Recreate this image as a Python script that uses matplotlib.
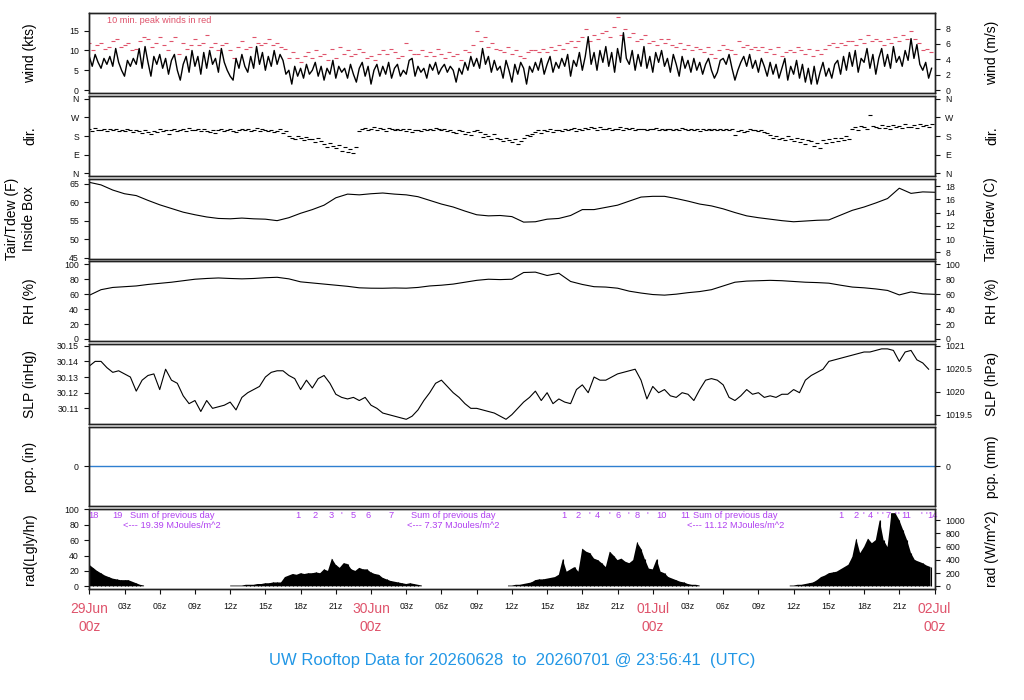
import numpy as np
import matplotlib
matplotlib.use('Agg')
import matplotlib.pyplot as plt
from matplotlib.transforms import blended_transform_factory

plt.rcParams['font.family'] = ['Liberation Sans', 'DejaVu Sans']

# ---------------- data (hours since 29Jun 00z) ----------------
# wind speed (kts), every 15 min
wind_kts = [
 8.5, 6.0, 9.0, 7.0,  5.5, 8.0, 6.5, 8.5,  6.0, 10.5, 7.0, 5.0,  3.5, 7.5, 6.0, 8.0,
 6.5, 10.5, 5.5, 11.0,  7.0, 3.5, 8.5, 6.5,  9.0, 5.5, 8.0, 4.0,  7.5, 9.0, 5.0, 2.5,
 6.5, 8.5, 4.5, 10.0,  6.0, 8.5, 4.0, 9.5,  5.5, 10.0, 6.5, 8.0,  4.5, 10.5, 7.0, 5.0,
 3.5, 2.5, 8.0, 5.5,  9.0, 6.0, 4.5, 8.5,  5.5, 11.0, 6.5, 9.5,  5.0, 8.5, 6.0, 10.0,
 6.5, 9.0, 7.5, 4.0,  5.0, 1.5, 6.0, 3.5,  5.5, 3.0, 6.5, 4.0,  5.0, 7.0, 3.5, 6.0,
 2.5, 5.5, 4.0, 7.5,  3.0, 6.0, 4.5, 5.5,  3.0, 6.5, 4.0, 2.0,  5.5, 7.0, 3.5, 6.0,
 1.5, 5.0, 6.5, 3.5,  6.0, 4.0, 7.0, 3.0,  5.5, 6.5, 3.5, 5.0,  4.0, 7.5, 8.0, 3.5,
 6.0, 4.5, 5.5, 3.0,  6.5, 5.0, 7.0, 4.0,  5.5, 6.5, 4.5, 6.0,  5.0, 2.0, 5.5, 4.0,
 7.0, 5.0, 8.5, 6.0,  8.0, 5.5, 10.5, 6.5,  8.5, 4.5, 7.5, 5.0,  6.0, 3.0, 7.5, 5.0,
 2.0, 6.5, 4.0, 7.0,  5.5, 1.5, 6.0, 4.5,  7.0, 5.0, 8.0, 4.0,  6.5, 8.5, 4.5, 7.0,
 5.5, 8.0, 6.0, 9.0,  3.5, 7.5, 6.0, 9.5,  5.0, 8.5, 13.5, 6.5,  9.5, 5.0, 10.0, 7.0,
 11.0, 6.0, 9.5, 4.5,  10.5, 7.0, 14.5, 8.0,  6.5, 10.0, 5.0, 9.0,  6.0, 11.0, 5.5, 8.5,
 4.5, 9.5, 7.0, 10.0,  6.0, 8.0, 4.5, 9.0,  6.5, 3.5, 8.5, 5.5,  7.5, 4.5, 8.0, 5.0,
 7.0, 4.0, 6.5, 8.0,  5.0, 3.0, 4.5, 7.5,  8.0, 6.5, 9.0, 5.5,  2.5, 5.0, 7.0, 8.5,
 6.0, 9.0, 5.5, 7.5,  4.5, 8.0, 6.0, 3.5,  7.0, 4.0, 6.5, 3.0,  5.5, 8.0, 2.5, 6.0,
 4.0, 7.5, 3.0, 6.5,  2.0, 5.5, 1.5, 6.0,  1.5, 4.5, 7.0, 3.5,  5.5, 3.0, 6.5, 7.5,
 4.0, 8.5, 5.0, 9.5,  6.0, 10.0, 4.5, 8.0,  7.0, 10.5, 5.5, 9.0,  4.0, 8.0, 10.5, 6.0,
 9.0, 5.5, 11.0, 7.0,  8.5, 6.0, 10.0, 7.5,  13.0, 8.0, 11.5, 6.5,  5.0, 7.0, 3.0, 5.5,
]

# 10-min peak winds (kts), every 20 min
peak_kts = [
 12.0, 10.0, 11.5,  12.0, 10.5, 11.0,  12.5, 13.0, 11.0,  11.5, 12.0, 10.0,
 10.5, 12.5, 13.5,  13.0, 11.0, 12.0,  13.5, 11.5, 10.0,  12.5, 13.5, 9.0,
 12.0, 10.5, 11.5,  13.0, 11.5, 12.0,  14.0, 11.0, 12.0,  10.0, 11.5, 12.0,
 10.0, 8.0, 11.0,  12.5, 10.5, 11.0,  13.5, 12.0, 11.5,  12.0, 13.0, 11.5,
 12.0, 11.0, 10.5,  8.0, 9.5, 8.0,  7.0, 8.5, 9.5,  8.0, 10.0, 8.5,
 9.0, 7.5, 10.5,  8.0, 11.0, 9.0,  10.0, 8.5, 9.0,  10.5, 9.5, 8.0,
 8.5, 7.5, 9.0,  10.0, 9.0, 10.5,  9.5, 8.0, 8.5,  12.0, 10.0, 9.0,
 9.0, 10.0, 8.5,  9.5, 8.5, 10.5,  9.0, 8.0, 9.5,  8.5, 9.0, 7.5,
 10.0, 9.5, 11.5,  15.0, 12.5, 13.5,  11.0, 12.0, 10.5,  10.0, 9.5, 11.0,
 9.0, 10.0, 8.5,  8.0, 9.5, 10.0,  10.0, 9.5, 10.5,  9.5, 11.0, 10.0,
 11.5, 10.5, 12.0,  12.5, 11.0, 12.5,  13.5, 15.5, 12.5,  14.0, 13.0, 14.5,
 15.0, 13.5, 16.0,  18.5, 14.0, 15.5,  13.5, 14.5, 12.5,  13.0, 14.0, 12.0,
 12.5, 11.5, 13.0,  12.0, 13.0, 11.5,  11.0, 12.0, 10.5,  11.5, 10.0, 11.0,
 10.5, 9.5, 11.0,  9.0, 8.0, 10.0,  11.5, 10.5, 10.0,  9.0, 12.5, 11.0,
 11.5, 10.5, 11.0,  10.0, 11.0, 9.5,  10.5, 9.0, 11.0,  8.5, 9.5, 10.0,
 9.5, 11.0, 10.0,  9.0, 10.5, 8.5,  10.0, 9.0, 10.5,  11.5, 12.0, 11.0,
 12.0, 11.5, 12.5,  12.5, 11.5, 13.0,  12.0, 14.0, 12.5,  13.0, 12.5, 11.5,
 13.0, 12.0, 13.5,  12.5, 14.0, 13.0,  15.0, 13.0, 12.0,  10.0, 10.5, 9.5,
]

# wind direction (degrees), every 15 min
wind_dir = [
 212, 205, 218, 208,  210, 215, 203, 212,  208, 214, 206, 211,  204, 212, 209, 200,
 210, 205, 196, 208,  200, 188, 205, 198,  212, 203, 209, 190,  207, 214, 202, 210,
 215, 206, 219, 210,  208, 213, 204, 212,  206, 200, 211, 196,  208, 214, 203, 210,
 212, 206, 200, 209,  215, 208, 213, 202,  210, 217, 205, 212,  208, 203, 210, 198,
 205, 212, 195, 203,  180, 172, 165, 178,  170, 160, 175, 168,  165, 150, 172, 158,
 140, 125, 148, 130,  120, 135, 110, 128,  105, 118, 98, 125,  205, 212, 220, 208,
 215, 222, 210, 218,  212, 206, 218, 214,  210, 216, 208, 213,  206, 212, 200, 210,
 211, 205, 214, 208,  216, 210, 220, 212,  208, 214, 205, 210,  200, 195, 207, 203,
 190, 198, 185, 202,  210, 198, 175, 190,  180, 165, 192, 172,  168, 155, 172, 162,
 150, 165, 140, 158,  170, 185, 178, 190,  200, 208, 195, 210,  205, 212, 200, 208,
 210, 203, 215, 207,  212, 218, 206, 214,  208, 220, 212, 225,  218, 210, 222, 215,
 212, 218, 208, 214,  216, 222, 210, 218,  213, 218, 210, 215,  212, 216, 209, 214,
 214, 218, 211, 215,  210, 216, 212, 208,  214, 210, 217, 212,  211, 215, 209, 213,
 206, 212, 208, 214,  210, 214, 207, 212,  208, 213, 210, 215,  185, 205, 210, 200,
 206, 212, 208, 210,  205, 210, 200, 196,  185, 170, 178, 165,  172, 160, 180, 168,
 158, 170, 150, 165,  140, 162, 155, 130,  148, 120, 160, 145,  165, 150, 170, 158,
 172, 160, 180, 168,  215, 225, 210, 230,  222, 215, 282, 228,  225, 218, 232, 220,
 228, 215, 235, 222,  230, 220, 238, 225,  224, 232, 218, 236,  228, 235, 222, 240,
]

# air temperature inside box (F), hourly
temp_f = [
 65.4, 64.7, 63.3, 62.3, 61.8, 60.5, 59.3, 58.3, 57.3, 56.6, 56.0, 55.6,
 55.5, 55.7, 55.5, 55.4, 55.0, 55.8, 57.0, 58.0, 59.2, 61.2, 62.2, 62.0,
 62.3, 62.5, 62.2, 62.0, 61.5, 60.5, 59.5, 58.7, 57.6, 56.6, 56.3, 56.4,
 56.1, 54.6, 54.7, 55.4, 55.6, 56.4, 58.0, 58.0, 58.6, 59.2, 60.3, 61.4,
 61.6, 61.6, 61.0, 60.3, 59.5, 59.0, 58.2, 57.2, 56.3, 55.8, 55.4, 55.0,
 54.7, 54.9, 55.1, 55.2, 56.5, 57.8, 58.7, 59.8, 61.0, 63.8, 62.4, 62.8, 62.7,
]

# relative humidity (%), hourly
rh_pct = [
 58.5, 66.0, 69.0, 70.0, 71.0, 73.0, 74.5, 76.0, 78.0, 80.0, 81.0, 81.7,
 81.0, 80.5, 81.0, 82.0, 82.6, 80.5, 76.5, 75.0, 73.5, 72.0, 70.5, 68.5,
 68.0, 67.9, 68.3, 68.0, 69.0, 71.0, 72.0, 73.5, 76.0, 78.5, 80.0, 79.5,
 80.0, 89.0, 89.5, 85.0, 88.0, 77.0, 73.0, 70.0, 69.5, 68.0, 64.0, 61.5,
 59.5, 58.7, 60.0, 62.0, 63.5, 66.0, 71.0, 76.0, 77.5, 78.0, 78.5, 78.0,
 77.0, 76.0, 75.5, 74.7, 72.0, 69.5, 68.5, 67.0, 65.0, 59.0, 63.0, 60.5, 59.8,
]

# sea-level pressure (inHg), every 30 min
slp_inhg = [
 30.137, 30.140, 30.140, 30.136, 30.133, 30.134, 30.132, 30.130, 30.121, 30.128,
 30.131, 30.132, 30.122, 30.135, 30.128, 30.126, 30.118, 30.113, 30.115, 30.108,
 30.115, 30.110, 30.111, 30.112, 30.114, 30.109, 30.117, 30.120, 30.122, 30.124,
 30.130, 30.133, 30.134, 30.134, 30.131, 30.129, 30.122, 30.128, 30.123, 30.129,
 30.131, 30.126, 30.119, 30.117, 30.116, 30.117, 30.115, 30.117, 30.112, 30.110,
 30.107, 30.106, 30.105, 30.104, 30.103, 30.105, 30.109, 30.115, 30.120, 30.126,
 30.128, 30.124, 30.120, 30.117, 30.113, 30.110, 30.110, 30.109, 30.108, 30.107,
 30.105, 30.103, 30.106, 30.110, 30.114, 30.117, 30.121, 30.115, 30.120, 30.113,
 30.116, 30.114, 30.113, 30.122, 30.125, 30.120, 30.130, 30.128, 30.128, 30.130,
 30.132, 30.133, 30.134, 30.135, 30.128, 30.116, 30.124, 30.120, 30.122, 30.118,
 30.117, 30.120, 30.119, 30.115, 30.122, 30.128, 30.129, 30.128, 30.125, 30.117,
 30.115, 30.118, 30.122, 30.119, 30.120, 30.117, 30.118, 30.117, 30.119, 30.119,
 30.122, 30.120, 30.128, 30.131, 30.133, 30.135, 30.140, 30.141, 30.142, 30.143,
 30.144, 30.145, 30.146, 30.146, 30.147, 30.148, 30.148, 30.147, 30.140, 30.146,
 30.147, 30.141, 30.139, 30.135,
]

# precipitation (in), hourly totals (all zero)
pcp_in = [0.0] * 73

# solar radiation (Langley/hr), every 20 min
rad_lgly = [
 28, 24, 20,  17, 14, 12,  10, 9, 8,  8, 8, 6,  4, 2, 1,
 0, 0, 0,  0, 0, 0,  0, 0, 0,  0, 0, 0,  0, 0, 0,  0, 0, 0,  0, 0, 0,
 1, 1, 1,  1, 2, 2,  2, 3, 3,  4, 4, 5,  5, 5, 12,  14, 16, 15,
 17, 16, 17,  17, 18, 17,  22, 20, 36,  28, 24, 30,  29, 22, 20,  24, 22, 22,
 18, 16, 15,  11, 9, 7,  6, 5, 4,  3, 4, 3,  2, 1, 0,
 0, 0, 0,  0, 0, 0,  0, 0, 0,  0, 0, 0,  0, 0, 0,  0, 0, 0,  0, 0, 1,
 1, 2, 2,  3, 4, 5,  8, 9, 9,  10, 11, 12,  15, 35, 19,  22, 25, 19,
 49, 45, 43,  36, 34, 30,  25, 45, 40,  34, 36, 32,  30, 34, 57,  49, 35, 23,
 22, 35, 19,  17, 12, 10,  8, 6, 5,  3, 2, 2,  1, 0, 0,
 0, 0, 0,  0, 0, 0,  0, 0, 0,  0, 0, 0,  0, 0, 0,  0, 0, 0,  0, 0, 1,
 1, 2, 2,  3, 4, 5,  8, 12, 14,  17, 18, 19,  22, 25, 28,  38, 62, 43,
 51, 62, 56,  60, 86, 60,  51, 95, 95,  86, 73, 60,  43, 34, 32,  30, 27, 25,
]

# purple cumulative-energy labels on the radiation panel
rad_marks = ['18', '19', '1', '2', '3', "'", '5', '6', '7',
             '1', '2', "'", '4', "'", '6', "'", '8', "'", '10', '11',
             '1', '2', "'", '4', "'", "'", '7', "'", "'", '11', "'", "'", '14']
rad_mark_hours = [0.34, 2.38, 17.79, 19.24, 20.60, 21.49, 22.48, 23.75, 25.74,
                  40.44, 41.67, 42.63, 43.25, 44.27, 45.07, 45.89, 46.65, 47.54, 48.78, 50.77,
                  64.02, 65.33, 65.98, 66.55, 67.17, 67.54, 68.02, 68.68, 68.96, 69.59, 70.87, 71.29, 71.85]
daily_sums = ['19.39', '7.37', '11.12']
daily_sum_hours = [7.03, 31.02, 55.05]

day_labels = ['29Jun', '30Jun', '01Jul', '02Jul']
title = 'UW Rooftop Data for 20260628  to  20260701 @ 23:56:41  (UTC)'

# ---------------- figure ----------------
W, H = 1024, 700
fig = plt.figure(figsize=(W / 100, H / 100), dpi=100)
LEFT, RIGHT = 88.7, 934.5
XLIM = (-0.05, 72.0)

RED = '#DF536B'
PURPLE = '#B040F0'
BLUE = '#2297E6'
FRAME = '#222222'
TICK_FS = 6.3
LAB_FS = 10


def add_panel(top, bottom):
    ax = fig.add_axes([LEFT / W, 1 - bottom / H, (RIGHT - LEFT) / W, (bottom - top) / H])
    ax.set_xlim(*XLIM)
    ax.set_xticks([])
    for s in ax.spines.values():
        s.set_linewidth(1.0)
        s.set_color(FRAME)
    ax.tick_params(axis='y', direction='out', length=3.6, width=0.8, pad=3.4,
                   labelsize=TICK_FS, colors='#111111')
    return ax


def right_axis(ax, ylim, ticks, labels=None):
    tw = ax.twinx()
    tw.set_ylim(*ylim)
    tw.set_yticks(ticks)
    if labels is not None:
        tw.set_yticklabels(labels)
    tw.tick_params(axis='y', direction='out', length=3.6, width=0.8, pad=4.2,
                   labelsize=TICK_FS, colors='#111111')
    for s in tw.spines.values():
        s.set_linewidth(1.0)
        s.set_color(FRAME)
    return tw


def xfrac(px):
    return (px - LEFT) / (RIGHT - LEFT)


def labels(ax, tw, left, right):
    ax.set_ylabel(left, fontsize=LAB_FS)
    ax.yaxis.set_label_coords(xfrac(37), 0.5)
    tw.set_ylabel(right, fontsize=LAB_FS)
    tw.yaxis.set_label_coords(xfrac(985), 0.5)


KT_PER_MS = 1.94384

# ---- wind speed ----
t_w = np.arange(len(wind_kts)) * 0.25
t_p = np.arange(len(peak_kts)) / 3.0
ax1 = add_panel(13.3, 93.0)
ax1.plot(t_p, peak_kts, ls='none', marker='_', ms=3.2, mew=0.8, color=RED)
ax1.plot(t_w, wind_kts, color='black', lw=1.0)
ax1.set_ylim(-0.75, 19.4)
ax1.set_yticks([0, 5, 10, 15])
tw1 = right_axis(ax1, (-0.75 / KT_PER_MS, 19.4 / KT_PER_MS), [0, 2, 4, 6, 8])
labels(ax1, tw1, 'wind (kts)', 'wind (m/s)')
ax1.text(1.48, 17.7, '10 min. peak winds in red', color=RED, fontsize=6.6,
         ha='left', va='center')

# ---- wind direction ----
t_d = np.arange(len(wind_dir)) * 0.25
ax2 = add_panel(96.3, 175.8)
ax2.plot(t_d, wind_dir, ls='none', marker='_', ms=3.2, mew=0.8, color='black')
ax2.set_ylim(-12, 372)
ax2.set_yticks([0, 90, 180, 270, 360])
ax2.set_yticklabels(['N', 'E', 'S', 'W', 'N'])
tw2 = right_axis(ax2, (-12, 372), [0, 90, 180, 270, 360], ['N', 'E', 'S', 'W', 'N'])
labels(ax2, tw2, 'dir.', 'dir.')

# ---- temperature ----
t_h = np.arange(len(temp_f)) * 1.0
ax3 = add_panel(179.0, 258.8)
ax3.plot(t_h, temp_f, color='black', lw=0.8)
ax3.set_ylim(44.65, 66.3)
ax3.set_yticks([45, 50, 55, 60, 65])
tw3 = right_axis(ax3, ((44.65 - 32) / 1.8, (66.3 - 32) / 1.8), [8, 10, 12, 14, 16, 18])
ax3.set_ylabel('Tair/Tdew (F)\nInside Box', fontsize=LAB_FS, linespacing=1.3)
ax3.yaxis.set_label_coords(xfrac(36), 0.5)
tw3.set_ylabel('Tair/Tdew (C)', fontsize=LAB_FS)
tw3.yaxis.set_label_coords(xfrac(984), 0.5)

# ---- relative humidity ----
t_rh = np.arange(len(rh_pct)) * 1.0
ax4 = add_panel(261.3, 341.0)
ax4.plot(t_rh, rh_pct, color='black', lw=0.8)
ax4.set_ylim(-2.7, 104)
ax4.set_yticks([0, 20, 40, 60, 80, 100])
tw4 = right_axis(ax4, (-2.7, 104), [0, 20, 40, 60, 80, 100])
labels(ax4, tw4, 'RH (%)', 'RH (%)')

# ---- sea-level pressure ----
HPA_PER_INHG = 33.8639
t_s = np.arange(len(slp_inhg)) * 0.5
ax5 = add_panel(343.7, 424.0)
ax5.plot(t_s, slp_inhg, color='black', lw=0.8)
ax5.set_ylim(30.100, 30.1513)
ax5.set_yticks([30.11, 30.12, 30.13, 30.14, 30.15])
ax5.set_yticklabels(['30.11', '30.12', '30.13', '30.14', '30.15'])
tw5 = right_axis(ax5, (30.100 * HPA_PER_INHG, 30.1513 * HPA_PER_INHG),
                 [1019.5, 1020, 1020.5, 1021], ['1019.5', '1020', '1020.5', '1021'])
labels(ax5, tw5, 'SLP (inHg)', 'SLP (hPa)')

# ---- precipitation ----
t_pc = np.arange(len(pcp_in)) * 1.0
ax6 = add_panel(426.7, 506.2)
ax6.plot(t_pc, pcp_in, color='#2F7FD0', lw=1.0)
ax6.set_ylim(-1, 1)
ax6.set_yticks([0])
tw6 = right_axis(ax6, (-25.4, 25.4), [0])
labels(ax6, tw6, 'pcp. (in)', 'pcp. (mm)')

# ---- solar radiation ----
WM2_PER_LY = 11.622
t_r = np.arange(len(rad_lgly)) / 3.0
rad = np.array(rad_lgly, dtype=float)
ax7 = add_panel(509.0, 588.7)
ax7.fill_between(t_r, 0, rad, where=rad > 0, interpolate=False, color='black', lw=0)
ax7.vlines(t_r[rad > 0], 0, rad[rad > 0], color='black', lw=0.8)
ax7.set_ylim(-3.1, 100.4)
ax7.set_yticks([0, 20, 40, 60, 80, 100])
tw7 = right_axis(ax7, (-3.1 * WM2_PER_LY, 100.4 * WM2_PER_LY), [0, 200, 400, 600, 800, 1000])
labels(ax7, tw7, 'rad(Lgly/hr)', 'rad (W/m^2)')

for lab, h in zip(rad_marks, rad_mark_hours):
    ax7.text(h, 92.6, lab, color=PURPLE, fontsize=6.7, ha='center', va='center')
for s, h in zip(daily_sums, daily_sum_hours):
    ax7.text(h, 92.6, 'Sum of previous day', color=PURPLE, fontsize=6.7, ha='center', va='center')
    ax7.text(h, 78.7, '<--- %s MJoules/m^2' % s, color=PURPLE, fontsize=6.7, ha='center', va='center')

# x axis
xt = np.arange(0, 73, 3)
ax7.set_xticks(xt)
ax7.set_xticklabels(['' if h % 24 == 0 else '%02dz' % (h % 24) for h in xt])
ax7.tick_params(axis='x', direction='out', length=3.6, width=0.8, pad=6.2,
                labelsize=TICK_FS, colors='#111111')
trans = blended_transform_factory(ax7.transData, fig.transFigure)
for i, d in enumerate(day_labels):
    ax7.text(24 * i, 1 - 609 / H, d, color=RED, fontsize=10, ha='center', va='center',
             transform=trans, clip_on=False)
    ax7.text(24 * i, 1 - 627 / H, '00z', color=RED, fontsize=10, ha='center', va='center',
             transform=trans, clip_on=False)

fig.text(512 / W, 1 - 660 / H, title, color=BLUE, fontsize=12, ha='center', va='center')

fig.savefig('out.png', dpi=100)
